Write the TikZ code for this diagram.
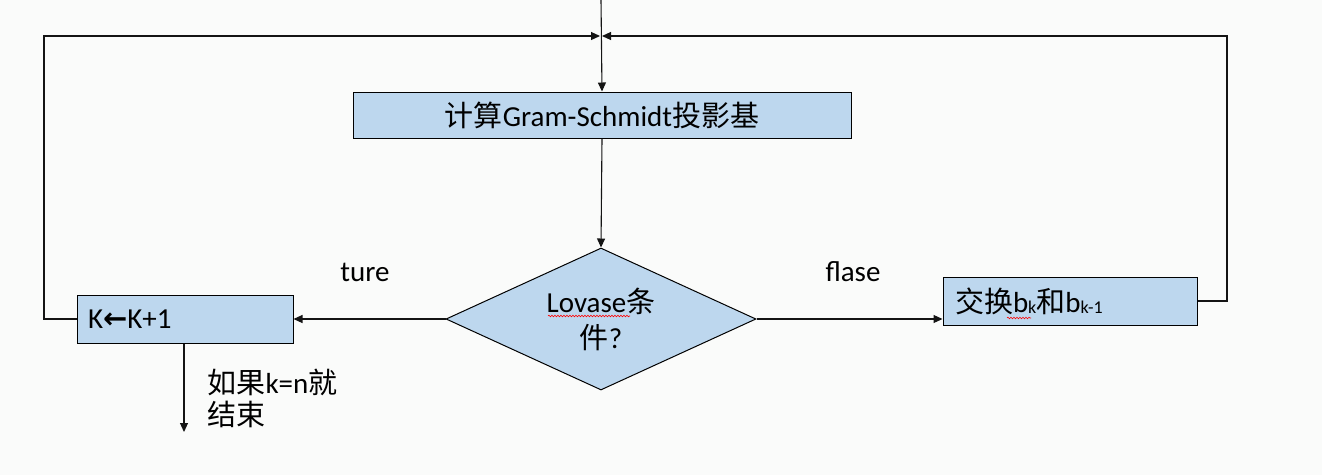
\documentclass[tikz,border=0pt]{standalone}
\usepackage{fontspec}
\setmainfont{Carlito}
\newfontfamily\cjk{Noto Sans CJK SC}
\newfontfamily\sym{DejaVu Sans}
\usetikzlibrary{arrows.meta,shapes.geometric,decorations.pathmorphing}
\definecolor{boxblue}{RGB}{189,215,238}
\definecolor{bgc}{RGB}{250,251,250}
\definecolor{linec}{RGB}{20,20,20}
\begin{document}
\begin{tikzpicture}[x=1pt,y=-1pt,
  line/.style={draw=linec,line width=1.1pt},
  arr/.style={line,-{Triangle[length=9pt,width=8pt]}},
  box/.style={draw=black,line width=1pt,fill=boxblue,inner ysep=0pt},
  txt/.style={font=\fontsize{29}{36}\selectfont},
  squig/.style={draw=red,line width=0.6pt,decorate,decoration={snake,amplitude=0.8pt,segment length=3pt}}]
\fill[bgc] (0,0) rectangle (1322,475);
\useasboundingbox (0,0) rectangle (1322,475);
\coordinate (top) at (601,0);
\coordinate (ml) at (600,36);
\coordinate (mr) at (602,36);
\coordinate (lc) at (44,36);
\coordinate (rc) at (1227,36);
\coordinate (endp) at (184,432);
\node[box,txt,minimum width=498pt,minimum height=46pt] (gs) at (602,115) {{\cjk 计算}Gram-Schmidt{\cjk 投影基}};
\node[draw=black,line width=1pt,fill=boxblue,shape=diamond,inner sep=0pt,minimum width=310pt,minimum height=142pt,aspect=2.18,txt,align=center] (lov) at (601,319) {Lovase{\cjk 条}\\{\cjk 件}?};
\node[box,txt,minimum height=48pt,inner xsep=11pt,text width=194pt,align=left] (kb) at (185,319) {K{\sym\bfseries ←}K+1};
\node[box,txt,minimum height=48pt,inner xsep=12pt,text width=230pt,align=left] (sw) at (1070,301) {{\cjk 交换}b\raisebox{-1pt}{\fontsize{18}{18}\selectfont k}{\cjk 和}b\raisebox{-1pt}{\fontsize{18}{18}\selectfont k-1}};
\node[txt] (ture) at (365,272) {ture};
\node[txt] (flase) at (853,272) {flase};
\node[font=\fontsize{29}{32}\selectfont,anchor=west,align=left] (endt) at (204,398) {{\cjk 如果}k=n{\cjk 就}\\{\cjk 结束}};
\draw[arr] (top) -- (gs.north);
\draw[arr] (gs.south) -- (lov.north);
\draw[arr] (lov.west) -- (kb.east);
\draw[arr] (lov.east) -- (lov.east -| sw.west);
\draw[arr] (sw.east) -| (rc) -- (mr);
\draw[arr] (kb.west) -| (lc) -- (ml);
\draw[arr] (kb.south -| endp) -- (endp);
\draw[squig] (548,316) -- (630,316);
\draw[squig] (1007,318) -- (1031,318);
\end{tikzpicture}
\end{document}
